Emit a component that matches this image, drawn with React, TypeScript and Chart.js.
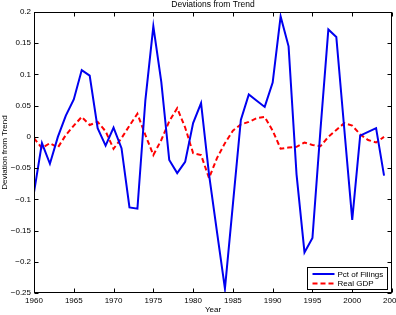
import React, { useEffect, useRef } from "react";
import { Chart, registerables } from "chart.js";

Chart.register(...registerables);

const years = [
  1960, 1961, 1962, 1963, 1964, 1965, 1966, 1967, 1968, 1969,
  1970, 1971, 1972, 1973, 1974, 1975, 1976, 1977, 1978, 1979,
  1980, 1981, 1982, 1983, 1984, 1985, 1986, 1987, 1988, 1989,
  1990, 1991, 1992, 1993, 1994, 1995, 1996, 1997, 1998, 1999,
  2000, 2001, 2002, 2003, 2004,
];

const pctOfFilings = [
  -0.089, -0.010, -0.043, 0.000, 0.034, 0.060, 0.107, 0.098, 0.014, -0.014,
  0.015, -0.018, -0.113, -0.115, 0.059, 0.177, 0.088, -0.037, -0.058, -0.040,
  0.022, 0.054, -0.060, -0.152, -0.243, -0.108, 0.027, 0.068, 0.058, 0.048,
  0.087, 0.193, 0.145, -0.060, -0.185, -0.162, 0.010, 0.172, 0.160, 0.013,
  -0.133, 0.002, 0.008, 0.014, -0.062,
];

const realGdp = [
  -0.002, -0.018, -0.010, -0.017, 0.003, 0.018, 0.032, 0.019, 0.024, 0.009,
  -0.019, -0.002, 0.018, 0.037, 0.003, -0.029, -0.005, 0.025, 0.046, 0.015,
  -0.026, -0.029, -0.066, -0.034, -0.010, 0.010, 0.020, 0.024, 0.030, 0.032,
  0.010, -0.019, -0.017, -0.016, -0.009, -0.013, -0.015, 0.000, 0.011, 0.022,
  0.018, 0.004, -0.005, -0.009, 0.000,
];

const seriesLabels = ["Pct of Filings", "Real GDP"];
const titleText = "Deviations from Trend";
const xTitle = "Year";
const yTitle = "Deviation from Trend";
const xMin = 1960;
const xMax = 2005;
const xStep = 5;
const yMin = -0.25;
const yMax = 0.2;
const yStep = 0.05;

const FONT = "'Liberation Sans', Arial, Helvetica, sans-serif";

function fmtY(v: number): string {
  let s = (Math.round(v * 100) / 100).toString();
  if (s === "-0") s = "0";
  return s.replace("-", "\u2212");
}

const matlabFrame = {
  id: "matlabFrame",
  afterDraw(chart: any) {
    const { ctx, chartArea: a, scales } = chart;
    ctx.save();
    ctx.strokeStyle = "#000";
    ctx.lineWidth = 1;
    ctx.setLineDash([]);
    const L = Math.round(a.left) + 0.5;
    const R = Math.round(a.right) - 0.5;
    const T = Math.round(a.top) + 0.5;
    const B = Math.round(a.bottom) - 0.5;
    ctx.strokeRect(L, T, R - L, B - T);
    const tl = 4;
    ctx.beginPath();
    scales.x.ticks.forEach((t: any) => {
      const px = Math.round(scales.x.getPixelForValue(t.value)) + 0.5;
      ctx.moveTo(px, B);
      ctx.lineTo(px, B - tl);
      ctx.moveTo(px, T);
      ctx.lineTo(px, T + tl);
    });
    scales.y.ticks.forEach((t: any) => {
      const py = Math.round(scales.y.getPixelForValue(t.value)) + 0.5;
      ctx.moveTo(L, py);
      ctx.lineTo(L + tl, py);
      ctx.moveTo(R, py);
      ctx.lineTo(R - tl, py);
    });
    ctx.stroke();

    // legend box (bottom-right inside axes)
    const w = 80;
    const h = 22;
    const lx = Math.round(a.right) - 5 - w + 0.5;
    const ly = Math.round(a.bottom) - 4 - h + 0.5;
    ctx.fillStyle = "#fff";
    ctx.fillRect(lx, ly, w, h);
    ctx.strokeStyle = "#000";
    ctx.lineWidth = 1;
    ctx.strokeRect(lx, ly, w, h);
    ctx.font = `8px ${FONT}`;
    ctx.textBaseline = "middle";
    ctx.textAlign = "left";
    chart.data.datasets.forEach((ds: any, i: number) => {
      const cy = ly + 6.5 + i * 9.5;
      ctx.beginPath();
      ctx.strokeStyle = ds.borderColor;
      ctx.lineWidth = ds.borderWidth;
      ctx.setLineDash(ds.borderDash || []);
      ctx.moveTo(lx + 5, cy);
      ctx.lineTo(lx + 27, cy);
      ctx.stroke();
      ctx.setLineDash([]);
      ctx.fillStyle = "#000";
      ctx.fillText(ds.label, lx + 30, cy + 0.5);
    });
    ctx.restore();
  },
};

export default function App() {
  const ref = useRef<HTMLCanvasElement>(null);

  useEffect(() => {
    const canvas = ref.current;
    if (!canvas) return;
    const chart = new Chart(canvas, {
      type: "line",
      data: {
        datasets: [
          {
            label: seriesLabels[0],
            data: years.map((yr, i) => ({ x: yr, y: pctOfFilings[i] })),
            borderColor: "#0000f0",
            backgroundColor: "#0000f0",
            borderWidth: 2,
            pointRadius: 0,
            tension: 0,
            fill: false,
          },
          {
            label: seriesLabels[1],
            data: years.map((yr, i) => ({ x: yr, y: realGdp[i] })),
            borderColor: "#ff0000",
            backgroundColor: "#ff0000",
            borderWidth: 2,
            borderDash: [5, 3],
            pointRadius: 0,
            tension: 0,
            fill: false,
          },
        ],
      },
      options: {
        responsive: false,
        animation: false,
        devicePixelRatio: 1,
        layout: { padding: { left: 0, right: 4, top: 0, bottom: 0 } },
        plugins: {
          legend: { display: false },
          tooltip: { enabled: false },
          title: {
            display: true,
            text: titleText,
            fullSize: false,
            color: "#000",
            font: { family: FONT, size: 8.5, weight: "normal", lineHeight: 1 },
            padding: { top: 0, bottom: 3.5 },
          },
        },
        scales: {
          x: {
            type: "linear",
            min: xMin,
            max: xMax,
            grid: { display: false, drawTicks: false },
            border: { display: false },
            ticks: {
              stepSize: xStep,
              autoSkip: false,
              maxRotation: 0,
              padding: 3,
              color: "#000",
              font: { family: FONT, size: 8 },
              callback: (v: any) => String(v),
            },
            title: {
              display: true,
              text: xTitle,
              color: "#000",
              font: { family: FONT, size: 8 },
              padding: 0,
            },
            afterFit: (s: any) => {
              s.height = 22;
              s.paddingLeft = 0;
              s.paddingRight = 0;
            },
          },
          y: {
            type: "linear",
            min: yMin,
            max: yMax,
            grid: { display: false, drawTicks: false },
            border: { display: false },
            ticks: {
              stepSize: yStep,
              autoSkip: false,
              padding: 3,
              color: "#000",
              font: { family: FONT, size: 8 },
              callback: (v: any) => fmtY(Number(v)),
            },
            title: {
              display: true,
              text: yTitle,
              color: "#000",
              font: { family: FONT, size: 8 },
              padding: 0,
            },
            afterFit: (s: any) => {
              s.width = 34;
              s.paddingTop = 0;
              s.paddingBottom = 0;
            },
          },
        },
      },
      plugins: [matlabFrame],
    } as any);
    return () => chart.destroy();
  }, []);

  return (
    <div style={{ position: "fixed", left: 0, top: 0, width: 396, height: 315, background: "#fff" }}>
      <canvas ref={ref} width={396} height={315} style={{ display: "block", width: 396, height: 315 }} />
    </div>
  );
}
